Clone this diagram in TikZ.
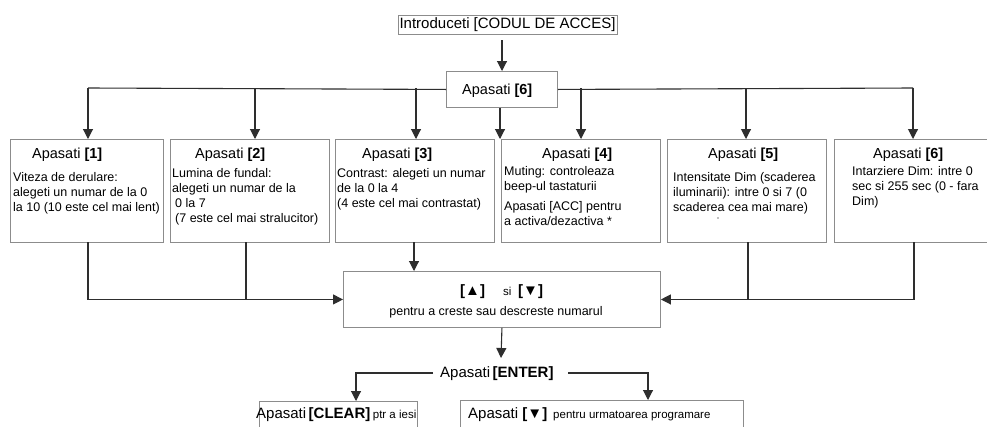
\documentclass[tikz,border=0pt]{standalone}
\usepackage{fontspec}
\setmainfont{Liberation Sans}
\usetikzlibrary{arrows.meta}
\definecolor{boxc}{HTML}{8C8C8C}
\definecolor{linec}{HTML}{2E2E2E}
\newcommand{\fhdr}{\fontsize{14.5}{17}\selectfont}
\newcommand{\fbody}{\fontsize{12.5}{15}\selectfont}
\newcommand{\fsmall}{\fontsize{11.5}{14}\selectfont}
\begin{document}
\begin{tikzpicture}[x=1pt,y=-1pt,
  box/.style={draw=boxc, line width=0.9pt, inner sep=0pt, anchor=north west},
  ln/.style={draw=linec, line width=1.1pt},
  arr/.style={ln, -{Triangle[length=10pt,width=10pt]}},
  hdr/.style={font=\fhdr, anchor=base west, inner sep=0pt},
  body/.style={font=\fbody, align=left, anchor=north west, inner sep=0pt}]
\clip (0,0) rectangle (987,426);
\fill[white] (0,0) rectangle (987,426);

% top
\node[draw=boxc, line width=0.9pt, inner sep=0pt, minimum width=219, minimum height=19,
      font=\fontsize{15}{18}\selectfont] (intro) at (507.5,24.5) {Introduceti [CODUL DE ACCES]};
\node[box, minimum width=111, minimum height=36] (p6) at (446,71) {};
\node[hdr] (p6t) at (462,94) {Apasati \textbf{[6]}};

% six boxes
\node[box, minimum width=153, minimum height=103] (b1) at (10,139) {};
\node[box, minimum width=159, minimum height=103] (b2) at (170,139) {};
\node[box, minimum width=159, minimum height=103] (b3) at (335,139) {};
\node[box, minimum width=159, minimum height=103] (b4) at (501,139) {};
\node[box, minimum width=159, minimum height=103] (b5) at (667,139) {};
\node[box, minimum width=165, minimum height=103] (b6) at (834,139) {};

\node[hdr] (h1) at (32,158) {Apasati \textbf{[1]}};
\node[hdr] (h2) at (195,158) {Apasati \textbf{[2]}};
\node[hdr] (h3) at (362,158) {Apasati \textbf{[3]}};
\node[hdr] (h4) at (542,158) {Apasati \textbf{[4]}};
\node[hdr] (h5) at (708,158) {Apasati \textbf{[5]}};
\node[hdr] (h6) at (873,158) {Apasati \textbf{[6]}};

\node[body] (t1) at (13,172) {Viteza de derulare:\\alegeti un numar de la 0\\la 10 (10 este cel mai lent)};
\node[body] (t2) at (172,168) {Lumina de fundal:\\alegeti un numar de la\\\hspace{3pt}0 la 7\\\hspace{3pt}(7 este cel mai stralucitor)};
\node[body] (t3) at (337,168) {Contrast: alegeti un numar\\de la 0 la 4\\(4 este cel mai contrastat)};
\node[body] (t4) at (504,166) {Muting: controleaza\\beep-ul tastaturii\\[5pt]Apasati [ACC] pentru\\a activa/dezactiva *};
\node[body] (t5) at (673,172) {Intensitate Dim (scaderea\\iluminarii): intre 0 si 7 (0\\scaderea cea mai mare)};
\node[body] (t6) at (852,166) {Intarziere Dim: intre 0\\sec si 255 sec (0 - fara\\Dim)};
\fill[gray] (718,218) circle (0.8);

% middle box
\node[box, minimum width=317, minimum height=56] (mid) at (343,271) {};
\node[anchor=base west, inner sep=0pt] (ud) at (460,295)
  {\makebox[43pt][l]{\fontsize{15}{18}\selectfont\bfseries[▲]}\makebox[15pt][l]{\fsmall si}{\fontsize{15}{18}\selectfont\bfseries[▼]}};
\node[anchor=base, inner sep=0pt, font=\fbody] (udt) at (496,315) {pentru a creste sau descreste numarul};

% enter
\node[anchor=base west, inner sep=0pt, font=\fontsize{15}{18}\selectfont] (ent) at (440,377) {Apasati\,\textbf{[ENTER]}};
\node[box, minimum width=158, minimum height=40] (clr) at (259,401) {};
\node[anchor=base west, inner sep=0pt, font=\fontsize{15}{18}\selectfont] (clrt) at (256,418) {Apasati\,\textbf{[CLEAR]}\,{\fsmall ptr a iesi}};
\node[box, minimum width=283, minimum height=40] (nxt) at (460,400) {};
\node[anchor=base west, inner sep=0pt, font=\fontsize{15}{18}\selectfont] (nxtt) at (468,418) {Apasati \textbf{[▼]}\hspace{6pt}{\fsmall pentru urmatoarea programare}};

% coordinates
\coordinate (a0) at (502,40);
\coordinate (c1) at (88,88);  \coordinate (c2) at (255,88);
\coordinate (c3) at (416,88); \coordinate (c4) at (581,88);
\coordinate (c5) at (746,88); \coordinate (c6) at (913,88);
\coordinate (d1) at (88,242);  \coordinate (d2) at (246,242);
\coordinate (d3) at (414,242); \coordinate (d5) at (748,242);
\coordinate (d6) at (914,242);
\coordinate (entin) at (501,358);
\coordinate (el) at (433,373); \coordinate (er) at (568,373);

% connectors
\draw[arr] (a0) -- (a0 |- p6.north);
\draw[ln] (c1) -- (p6.west);
\draw[ln] (p6.east) -- (c6);
\draw[arr] (c1) -- (c1 |- b1.north);
\draw[arr] (c2) -- (c2 |- b2.north);
\draw[arr] (c3) -- (c3 |- b3.north);
\draw[arr] (c4) -- (c4 |- b4.north);
\draw[arr] (c5) -- (c5 |- b5.north);
\draw[arr] (c6) -- (c6 |- b6.north);
\draw[arr] (p6.south -| 500,0) -- (500,139);
\draw[arr] (d1) |- (mid.west);
\draw[ln] (d2) -- (d2 |- mid.west);
\draw[arr] (d3) -- (d3 |- mid.north);
\draw[arr] (d6) |- (mid.east);
\draw[ln] (d5) -- (d5 |- mid.east);
\draw[arr] (mid.south) -- (entin);
\draw[arr] (el) -| (356,401);
\draw[arr] (er) -| (648,400);
\end{tikzpicture}
\end{document}
